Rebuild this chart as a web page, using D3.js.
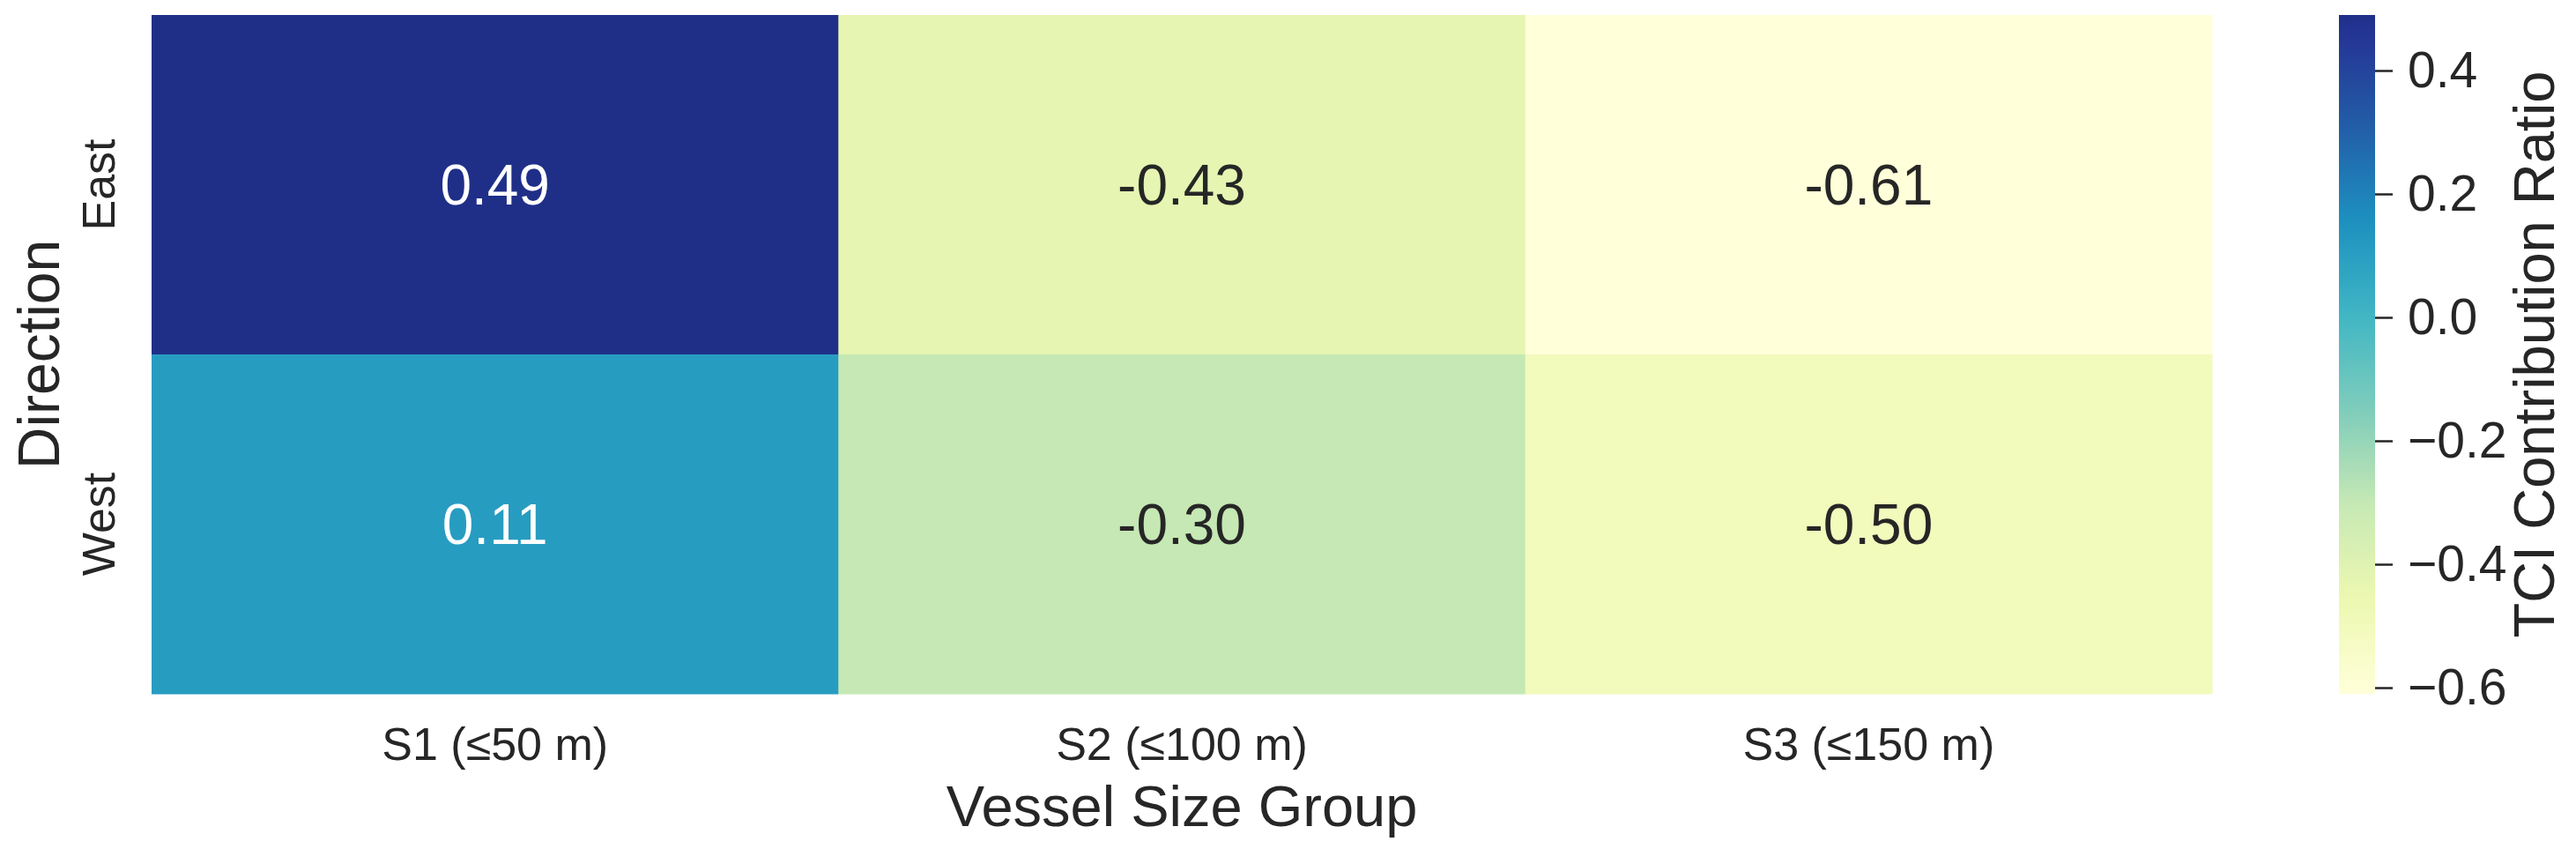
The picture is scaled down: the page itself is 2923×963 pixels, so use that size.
<!DOCTYPE html>
<html>
<head>
<meta charset="utf-8">
<script src="https://cdn.jsdelivr.net/npm/d3@7"></script>
<style>
    body { margin: 0; background: white; }
    text { font-family: "Liberation Sans", Arial, sans-serif; fill: #262626; }
</style>
</head>
<body>
<svg id="heatmap"></svg>
<script>
var directions = ["East", "West"];
var size_groups = ["S1 (≤50 m)", "S2 (≤100 m)", "S3 (≤150 m)"];
var east_values = [0.49, -0.43, -0.61];
var west_values = [0.11, -0.30, -0.50];
var cbar_ticks = [0.4, 0.2, 0.0, -0.2, -0.4, -0.6];
// YlGnBu colorbrewer stops (matplotlib style linear ramp)
var ylgnbu = ["#ffffd9", "#edf8b1", "#c7e9b4", "#7fcdbb", "#41b6c4", "#1d91c0", "#225ea8", "#253494", "#081d58"];

var W = 2923, H = 963;
var plot = {left: 172, right: 2510, top: 17, bottom: 787};
var cbar = {left: 2654, right: 2695};

var svg = d3.select('#heatmap')
    .attr('width', W)
    .attr('height', H);

svg.append("rect")
    .attr("width", W)
    .attr("height", H)
    .attr("fill", "white");

var cells = [];
directions.forEach(function(dir, i) {
    var vals = i == 0 ? east_values : west_values;
    size_groups.forEach(function(g, j) {
        cells.push({dir: dir, group: g, value: vals[j]});
    });
});

var vmin = d3.min(cells, d => d.value);
var vmax = d3.max(cells, d => d.value);

var xs = d3.scaleBand().domain(size_groups).range([plot.left, plot.right]);
var ys = d3.scaleBand().domain(directions).range([plot.top, plot.bottom]);

// colormap appears truncated at ~0.9 of YlGnBu
var ramp = d3.scaleLinear()
    .domain(d3.range(ylgnbu.length).map(i => i / (ylgnbu.length - 1)))
    .range(ylgnbu)
    .interpolate(d3.interpolateRgb);
var norm = d3.scaleLinear().domain([vmin, vmax]).range([0, 0.9]).clamp(true);
var cs = v => ramp(norm(v));

// relative luminance, like seaborn uses to pick annotation colour
function luminance(col) {
    var c = d3.rgb(col);
    var lin = [c.r, c.g, c.b].map(function(v) {
        v = v / 255;
        return v <= 0.03928 ? v / 12.92 : Math.pow((v + 0.055) / 1.055, 2.4);
    });
    return 0.2126 * lin[0] + 0.7152 * lin[1] + 0.0722 * lin[2];
}

svg.append("g")
    .selectAll("rect")
    .data(cells)
    .enter()
    .append("rect")
        .attr("x", d => xs(d.group))
        .attr("y", d => ys(d.dir))
        .attr("width", xs.bandwidth() + 0.5)
        .attr("height", ys.bandwidth() + 0.5)
        .attr("fill", d => cs(d.value));

svg.append("g")
    .selectAll("text")
    .data(cells)
    .enter()
    .append("text")
        .attr("x", d => xs(d.group) + xs.bandwidth() / 2)
        .attr("y", d => ys(d.dir) + ys.bandwidth() / 2)
        .attr("text-anchor", "middle")
        .attr("dominant-baseline", "central")
        .style("font-size", "64px")
        .style("fill", d => luminance(cs(d.value)) > 0.408 ? "#262626" : "white")
        .text(d => d.value.toFixed(2));

// x axis
var xaxis = svg.append("g")
    .attr("transform", "translate(0," + plot.bottom + ")")
    .call(d3.axisBottom(xs).tickSize(0).tickPadding(38));
xaxis.select(".domain").remove();
xaxis.selectAll("text")
    .style("font-size", "52px")
    .style("font-family", '"Liberation Sans", Arial, sans-serif')
    .attr("fill", "#262626");

// y axis, labels rotated
var yaxis = svg.append("g")
    .attr("transform", "translate(" + plot.left + ",0)")
    .call(d3.axisLeft(ys).tickSize(0));
yaxis.select(".domain").remove();
yaxis.selectAll("text")
    .attr("transform", "rotate(-90)")
    .attr("x", 0)
    .attr("y", -42)
    .attr("dy", 0)
    .attr("text-anchor", "middle")
    .style("font-size", "52px")
    .style("font-family", '"Liberation Sans", Arial, sans-serif')
    .attr("fill", "#262626");

svg.append("text")
    .attr("x", (plot.left + plot.right) / 2)
    .attr("y", 937)
    .attr("text-anchor", "middle")
    .style("font-size", "65px")
    .text("Vessel Size Group");

svg.append("text")
    .attr("transform", "translate(67," + ((plot.top + plot.bottom) / 2) + ") rotate(-90)")
    .attr("text-anchor", "middle")
    .style("font-size", "66px")
    .text("Direction");

// colorbar
var cy = d3.scaleLinear().domain([vmin, vmax]).range([plot.bottom, plot.top]);
var grad = svg.append("defs").append("linearGradient")
    .attr("id", "cbar_grad")
    .attr("x1", 0).attr("y1", 1)
    .attr("x2", 0).attr("y2", 0);
grad.selectAll("stop")
    .data(d3.range(0, 1.0001, 0.02))
    .enter()
    .append("stop")
        .attr("offset", d => d)
        .attr("stop-color", d => cs(vmin + d * (vmax - vmin)));

svg.append("rect")
    .attr("x", cbar.left)
    .attr("y", plot.top)
    .attr("width", cbar.right - cbar.left)
    .attr("height", plot.bottom - plot.top)
    .attr("fill", "url(#cbar_grad)");

var caxis = svg.append("g")
    .attr("transform", "translate(" + cbar.right + ",0)")
    .call(d3.axisRight(cy).tickValues(cbar_ticks).tickFormat(d3.format(".1f")).tickSize(20).tickPadding(17));
caxis.select(".domain").remove();
caxis.selectAll("line")
    .attr("stroke", "#262626")
    .attr("stroke-width", 2.5);
caxis.selectAll("text")
    .style("font-size", "57px")
    .style("font-family", '"Liberation Sans", Arial, sans-serif')
    .attr("fill", "#262626");

svg.append("text")
    .attr("transform", "translate(2898," + ((plot.top + plot.bottom) / 2) + ") rotate(-90)")
    .attr("text-anchor", "middle")
    .style("font-size", "65px")
    .text("TCI Contribution Ratio");
</script>
</body>
</html>
